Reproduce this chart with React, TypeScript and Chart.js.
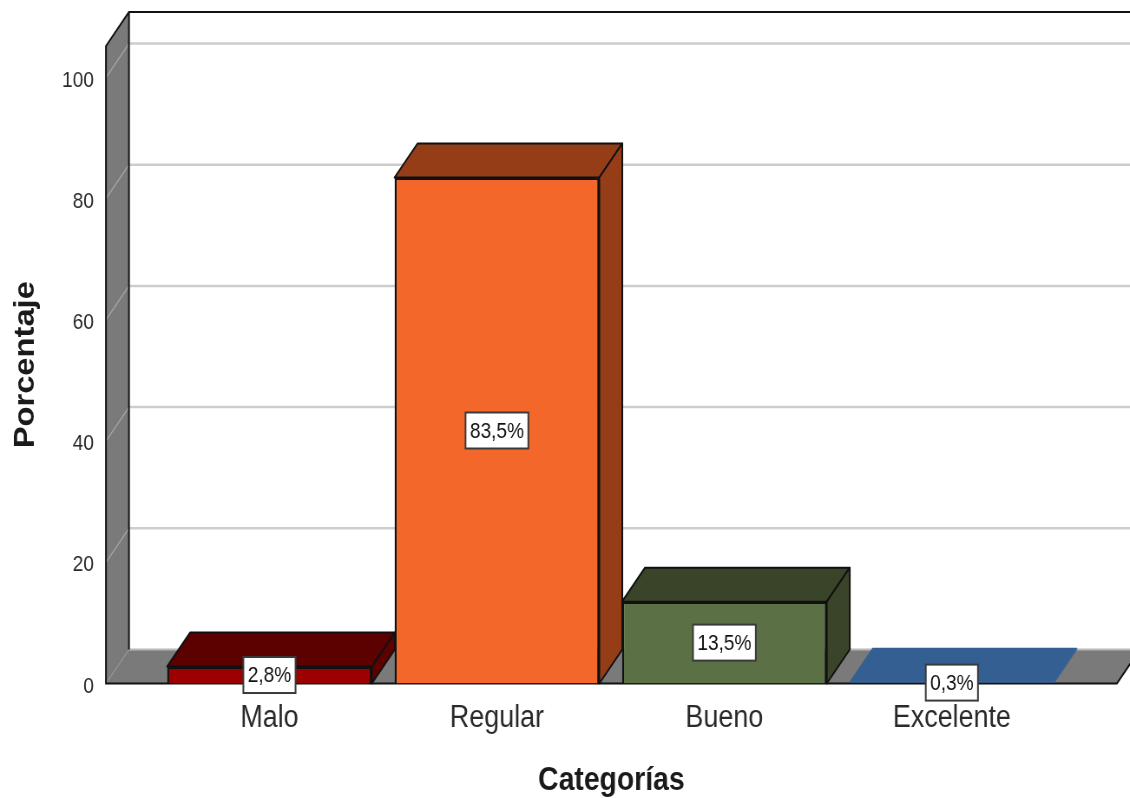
import React, { useEffect, useRef } from "react";
import { Chart, registerables } from "chart.js";

Chart.register(...registerables);

const categories = ["Malo", "Regular", "Bueno", "Excelente"];
const percentages = [2.8, 83.5, 13.5, 0.3];
const valueLabels = ["2,8%", "83,5%", "13,5%", "0,3%"];
const yTicks = [0, 20, 40, 60, 80, 100];
const frontColors = ["#9c0000", "#f4672a", "#5c7046", "#2b5487"];
const depthColors = ["#5c0000", "#953d17", "#3a4429", "#345f92"];
const outlineColors = ["#111111", "#111111", "#111111", "#2a4f7c"];

// The reference is horizontally squeezed: the canvas is drawn wider and shown at 1130px.
const K = 0.868;
const LOGICAL_W = Math.round(1130 / K);
const DX = 23 / K;
const DY = 34;
const SANS = "'Liberation Sans', Arial, sans-serif";

const depthPlugin = {
  id: "depth",
  beforeDatasetsDraw(chart: any) {
    const { ctx, chartArea: a, scales } = chart;
    const y = scales.y;
    const floorY = y.getPixelForValue(0);
    ctx.save();
    ctx.fillStyle = "#7a7a7a";
    ctx.beginPath();
    ctx.moveTo(a.left, a.top);
    ctx.lineTo(a.left + DX, a.top - DY);
    ctx.lineTo(a.left + DX, floorY - DY);
    ctx.lineTo(a.left, floorY);
    ctx.closePath();
    ctx.fill();
    ctx.beginPath();
    ctx.moveTo(a.left, floorY);
    ctx.lineTo(a.left + DX, floorY - DY);
    ctx.lineTo(a.right + DX, floorY - DY);
    ctx.lineTo(a.right, floorY);
    ctx.closePath();
    ctx.fill();
    ctx.strokeStyle = "#b8b8b8";
    ctx.lineWidth = 2;
    ctx.beginPath();
    ctx.moveTo(a.left + DX, floorY - DY);
    ctx.lineTo(a.right + DX, floorY - DY);
    ctx.stroke();
    ctx.strokeStyle = "#9a9a9a";
    ctx.lineWidth = 1;
    ctx.beginPath();
    ctx.moveTo(a.left, floorY);
    ctx.lineTo(a.left + DX, floorY - DY);
    ctx.stroke();
    yTicks.forEach((t) => {
      if (t === 0) return;
      const py = y.getPixelForValue(t);
      ctx.strokeStyle = "#a8a8a8";
      ctx.lineWidth = 1.2;
      ctx.beginPath();
      ctx.moveTo(a.left, py);
      ctx.lineTo(a.left + DX, py - DY);
      ctx.stroke();
      ctx.strokeStyle = "#cdcdcd";
      ctx.lineWidth = 2.5;
      ctx.beginPath();
      ctx.moveTo(a.left + DX, py - DY);
      ctx.lineTo(a.right + DX, py - DY);
      ctx.stroke();
    });
    ctx.strokeStyle = "#111111";
    ctx.lineWidth = 2;
    ctx.beginPath();
    ctx.moveTo(a.right + DX, a.top - DY);
    ctx.lineTo(a.left + DX, a.top - DY);
    ctx.lineTo(a.left, a.top);
    ctx.lineTo(a.left, floorY);
    ctx.lineTo(a.right, floorY);
    ctx.lineTo(a.right + DX, floorY - DY);
    ctx.moveTo(a.left + DX, a.top - DY);
    ctx.lineTo(a.left + DX, floorY - DY);
    ctx.stroke();
    const meta = chart.getDatasetMeta(0);
    meta.data.forEach((el: any, i: number) => {
      const l = el.x - el.width / 2;
      const r = el.x + el.width / 2;
      const t = el.y;
      const b = el.base;
      ctx.fillStyle = depthColors[i];
      ctx.strokeStyle = outlineColors[i];
      ctx.lineWidth = 2;
      ctx.lineJoin = "round";
      ctx.beginPath();
      ctx.moveTo(l, t);
      ctx.lineTo(l + DX, t - DY);
      ctx.lineTo(r + DX, t - DY);
      ctx.lineTo(r, t);
      ctx.closePath();
      ctx.fill();
      if (i !== 3) ctx.stroke();
      ctx.beginPath();
      ctx.moveTo(r, t);
      ctx.lineTo(r + DX, t - DY);
      ctx.lineTo(r + DX, b - DY);
      ctx.lineTo(r, b);
      ctx.closePath();
      ctx.fill();
      if (i !== 3) ctx.stroke();
    });
    ctx.restore();
  },
  afterDatasetsDraw(chart: any) {
    const { ctx } = chart;
    const meta = chart.getDatasetMeta(0);
    ctx.save();
    ctx.font = `22px ${SANS}`;
    ctx.textAlign = "center";
    ctx.textBaseline = "middle";
    meta.data.forEach((el: any, i: number) => {
      const cy = (el.y + el.base) / 2;
      const w = ctx.measureText(valueLabels[i]).width + 10;
      const h = 36;
      ctx.fillStyle = "#ffffff";
      ctx.strokeStyle = "#3a3a3a";
      ctx.lineWidth = 2;
      ctx.fillRect(el.x - w / 2, cy - h / 2, w, h);
      ctx.strokeRect(el.x - w / 2, cy - h / 2, w, h);
      ctx.fillStyle = "#111111";
      ctx.fillText(valueLabels[i], el.x, cy + 1);
    });
    ctx.restore();
  },
};

export default function App() {
  const ref = useRef<HTMLCanvasElement | null>(null);
  useEffect(() => {
    if (!ref.current) return;
    const chart = new Chart(ref.current, {
      type: "bar",
      data: {
        labels: categories,
        datasets: [
          {
            data: percentages.map((v, i) => ({ x: i, y: v })) as any,
            backgroundColor: frontColors,
            borderColor: outlineColors,
            borderWidth: 2.4,
            barPercentage: 0.9,
            categoryPercentage: 1,
          },
        ],
      },
      options: {
        animation: false,
        responsive: false,
        layout: { padding: { top: 46, right: LOGICAL_W - 1117 / K, left: 0, bottom: 0 } },
        plugins: { legend: { display: false }, tooltip: { enabled: false } },
        scales: {
          x: {
            type: "linear",
            offset: false,
            min: -0.7187,
            max: 3.7253,
            grid: { display: false },
            border: { display: false },
            afterBuildTicks: (s: any) => {
              s.ticks = categories.map((_, i) => ({ value: i }));
            },
            afterFit: (s: any) => {
              s.height = 114.5;
            },
            ticks: {
              autoSkip: false,
              maxRotation: 0,
              padding: 8,
              color: "#2a2a2a",
              font: { family: SANS, size: 31 },
              callback: (v: any) => categories[v],
            },
            title: {
              display: true,
              text: "Categorías",
              color: "#1a1a1a",
              font: { family: SANS, size: 32.7, weight: "bold" },
              padding: { top: 0, bottom: -3 },
            },
          },
          y: {
            min: 0,
            max: 105.2,
            grid: { display: false },
            border: { display: false },
            afterBuildTicks: (s: any) => {
              s.ticks = yTicks.map((v) => ({ value: v }));
            },
            afterFit: (s: any) => {
              s.width = 106 / K;
            },
            ticks: {
              padding: 6,
              labelOffset: 3,
              color: "#2a2a2a",
              font: { family: SANS, size: 22 },
            },
            title: {
              display: true,
              text: "Porcentaje",
              color: "#1a1a1a",
              font: { family: SANS, size: 32.7, weight: "bold" },
              padding: { top: 10, bottom: 0 },
            },
          },
        },
      } as any,
      plugins: [depthPlugin],
    });
    return () => chart.destroy();
  }, []);
  return (
    <canvas
      ref={ref}
      width={LOGICAL_W}
      height={798}
      style={{
        position: "absolute",
        left: 0,
        top: 0,
        width: "1130px",
        height: "798px",
        display: "block",
        background: "#ffffff",
      }}
    />
  );
}
